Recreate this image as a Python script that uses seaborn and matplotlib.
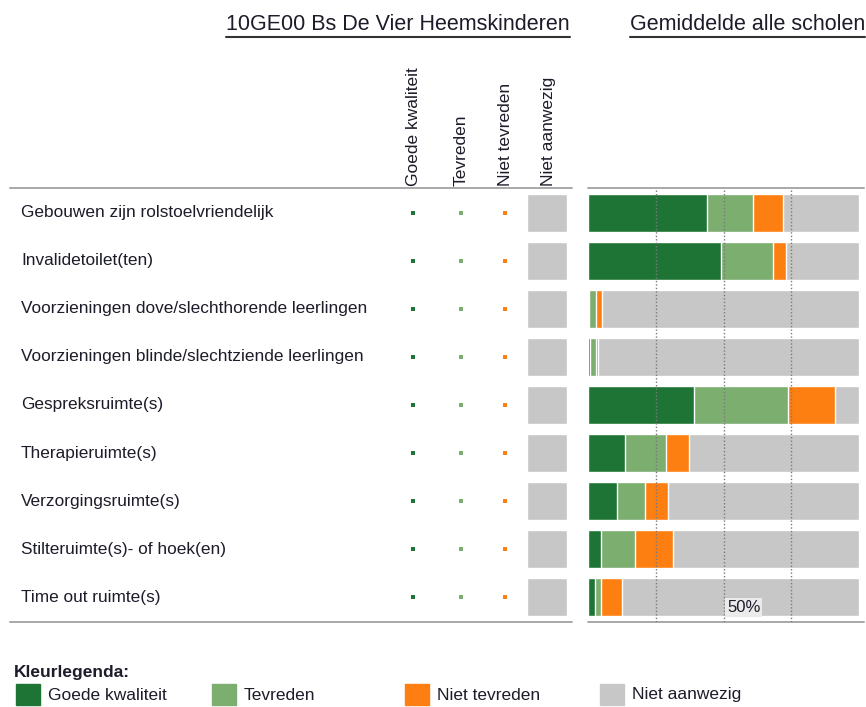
import matplotlib
matplotlib.use("Agg")
import matplotlib.pyplot as plt
from matplotlib.patches import Rectangle
from matplotlib.lines import Line2D
import numpy as np
import pandas as pd
import seaborn as sns

# Voorzieningen - eigen school vs gemiddelde alle scholen

voorzieningen = [
    "Gebouwen zijn rolstoelvriendelijk",
    "Invalidetoilet(ten)",
    "Voorzieningen dove/slechthorende leerlingen",
    "Voorzieningen blinde/slechtziende leerlingen",
    "Gespreksruimte(s)",
    "Therapieruimte(s)",
    "Verzorgingsruimte(s)",
    "Stilteruimte(s)- of hoek(en)",
    "Time out ruimte(s)",
]
kolommen = ["Goede kwaliteit", "Tevreden", "Niet tevreden", "Niet aanwezig"]

goede_kwaliteit = [43.8, 49.2, 0.3, 0.7, 39.0, 13.8, 10.8, 4.9, 2.5]
tevreden = [17.2, 19.1, 2.7, 2.3, 34.7, 15.0, 10.2, 12.4, 2.3]
niet_tevreden = [10.9, 4.9, 2.0, 0.7, 17.3, 8.4, 8.4, 13.9, 7.9]

kleuren = {
    "Goede kwaliteit": "#1e7434",
    "Tevreden": "#7bae6f",
    "Niet tevreden": "#fd7f12",
    "Niet aanwezig": "#c7c7c7",
}

sns.set_theme(style="white")
plt.rcParams["font.family"] = ["Liberation Sans", "DejaVu Sans"]
tekst = "#1c1c2a"
lijn = "#a8a8a8"

W, H = 866, 707
fig = plt.figure(figsize=(W / 100, H / 100), dpi=100)


def box(x0, y0, x1, y1):
    return [x0 / W, 1 - y1 / H, (x1 - x0) / W, (y1 - y0) / H]


top, bot = 188, 622
ylim = (8.52, -0.52)

# ---- linkerdeel: tabel eigen school
ax_t = fig.add_axes(box(0, top, 575, bot))
ax_t.set_xlim(0, 575)
ax_t.set_ylim(*ylim)
ax_t.axis("off")

kol_x = [413, 461, 505]
for i, naam in enumerate(voorzieningen):
    ax_t.text(21, i, naam, va="center", ha="left", fontsize=12.4, color=tekst)
    for x, k in zip(kol_x, kolommen[:3]):
        ax_t.scatter(x, i, s=8, marker="s", color=kleuren[k], linewidths=0)
ax_t.barh(range(len(voorzieningen)), 40, left=527, height=0.8,
          color=kleuren["Niet aanwezig"])
for yy in ylim:
    ax_t.plot([10, 572], [yy, yy], color=lijn, lw=1.4, clip_on=False)

for x, k in zip(kol_x + [548], kolommen):
    fig.text(x / W, 1 - 186 / H, k, rotation=90, ha="center", va="bottom",
             fontsize=12.5, color=tekst)

# ---- rechterdeel: gestapelde balken gemiddelde
df = pd.DataFrame({
    "voorziening": voorzieningen,
    "Goede kwaliteit": goede_kwaliteit,
    "Tevreden": tevreden,
    "Niet tevreden": niet_tevreden,
})
df["cum_goed"] = df["Goede kwaliteit"]
df["cum_tevr"] = df["cum_goed"] + df["Tevreden"]
df["cum_niet"] = df["cum_tevr"] + df["Niet tevreden"]
df["totaal"] = 100.0

ax_b = fig.add_axes(box(588, top, 864, bot))
for kol, k in [("totaal", "Niet aanwezig"), ("cum_niet", "Niet tevreden"),
               ("cum_tevr", "Tevreden"), ("cum_goed", "Goede kwaliteit")]:
    sns.barplot(data=df, x=kol, y="voorziening", orient="h", color=kleuren[k],
                saturation=1, width=0.8, ax=ax_b)
ax_b.set_xlim(0, 100 * 276 / 271)
ax_b.set_ylim(*ylim)
for g in [25, 50, 75]:
    ax_b.axvline(g, color="#7a7a7a", lw=1, ls=(0, (1, 1.5)), zorder=5)
ax_b.text(51.3, 8.22, "50%", ha="left", va="center", fontsize=12, color=tekst,
          zorder=6, bbox=dict(boxstyle="square,pad=0.12", fc="#ebebeb", ec="none"))
ax_b.axis("off")
for yy in ylim:
    ax_b.axhline(yy, color=lijn, lw=1.4, clip_on=False)

# ---- titels
titels = [(226, "10GE00 Bs De Vier Heemskinderen"), (630, "Gemiddelde alle scholen")]
fig.canvas.draw()
r = fig.canvas.get_renderer()
for x, t in titels:
    tx = fig.text(x / W, 1 - 25 / H, t, ha="left", va="center", fontsize=15.5,
                  color=tekst)
    bb = tx.get_window_extent(renderer=r)
    fig.add_artist(Line2D([bb.x0 / W, bb.x1 / W], [(bb.y0 - 1) / H] * 2,
                          color="#333333", lw=1.5))

# ---- legenda
fig.text(14 / W, 1 - 672 / H, "Kleurlegenda:", ha="left", va="center",
         fontsize=12.5, fontweight="bold", color=tekst)
for x, k in zip([16, 212, 405, 600], kolommen):
    fig.add_artist(Rectangle((x / W, 1 - 705 / H), 24 / W, 21 / H,
                             color=kleuren[k], transform=fig.transFigure))
    fig.text((x + 32) / W, 1 - 695 / H, k, ha="left", va="center",
             fontsize=12.5, color=tekst)

fig.savefig("out.png", dpi=100)
